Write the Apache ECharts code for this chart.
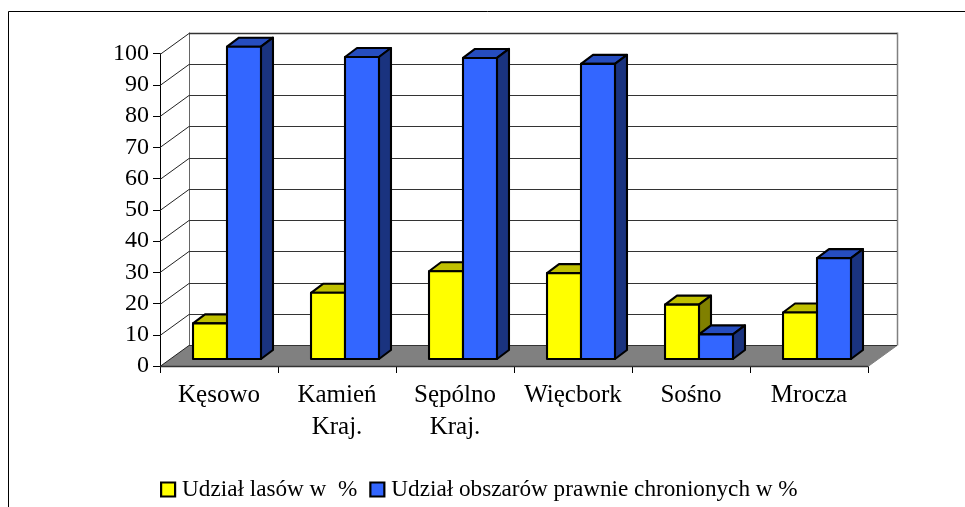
<!DOCTYPE html>
<html><head><meta charset="utf-8">
<style>html,body{margin:0;padding:0;background:#fff}#c{width:965px;height:507px}</style>
<script src="https://cdn.jsdelivr.net/npm/echarts@6/dist/echarts.min.js"></script>
</head><body><div id="c"></div>
<script>
const categories = ['Kęsowo', 'Kamień\nKraj.', 'Sępólno\nKraj.', 'Więcbork', 'Sośno', 'Mrocza'];
const forests = [11.4, 21.2, 28.1, 27.5, 17.4, 14.9];
const protectedAreas = [100, 96.7, 96.4, 94.5, 7.9, 32.3];
const yTicks = [0, 10, 20, 30, 40, 50, 60, 70, 80, 90, 100];
const seriesNames = ['Udział lasów w  %', 'Udział obszarów prawnie chronionych w %'];

const FONT = '"Liberation Serif","Times New Roman",serif';
const DX = 29, DY = 22;
const crisp = v => Math.round(v) + 0.5;

function wallItem(params, api) {
  const cs = params.coordSys;
  const tick = api.value(1);
  const y = crisp(api.coord([0, tick])[1]);
  const x0 = cs.x, x1 = cs.x + DX, x2 = cs.x + cs.width + DX;
  const by = crisp(y - DY);
  const children = [];
  if (tick === 0) {
    const fy = y;
    children.push({ type: 'polygon', shape: { points: [[x0, fy], [x1, by], [x2, by], [cs.x + cs.width, fy]] },
      style: { fill: '#808080', stroke: null } });
    children.push({ type: 'line', shape: { x1: x0, y1: fy, x2: cs.x + cs.width, y2: fy }, style: { stroke: '#333', lineWidth: 1.6 } });
    children.push({ type: 'line', shape: { x1: x2, y1: by, x2: cs.x + cs.width, y2: fy }, style: { stroke: '#808080', lineWidth: 1 } });
    const topY = crisp(api.coord([0, 100])[1] - DY);
    children.push({ type: 'line', shape: { x1: crisp(x1), y1: topY, x2: crisp(x1), y2: by }, style: { stroke: '#666', lineWidth: 1 } });
    children.push({ type: 'line', shape: { x1: crisp(x2), y1: topY, x2: crisp(x2), y2: by }, style: { stroke: '#808080', lineWidth: 1.5 } });
  }
  children.push({ type: 'line', shape: { x1: x0, y1: y, x2: x1, y2: by }, style: { stroke: '#222', lineWidth: 1 } });
  children.push({ type: 'line', shape: { x1: x1, y1: by, x2: x2, y2: by }, style: { stroke: '#333', lineWidth: tick === 100 ? 1.3 : 1 } });
  return { type: 'group', children };
}

function barItem(colors, side) {
  return function (params, api) {
    const idx = api.value(0), val = api.value(1);
    const c = api.coord([idx, val]), b = api.coord([idx, 0]);
    const w = api.size([1, 0])[0] * 0.288;
    const sx = 8, sy = 7, ddx = 12, ddy = 9;
    const cx = c[0] + sx;
    const l = side === 0 ? cx - w : cx;
    const r = l + w;
    const bot = b[1] - sy;
    const top = bot - (b[1] - c[1]);
    const st = { stroke: '#000', lineWidth: 2.1, lineJoin: 'round' };
    return { type: 'group', children: [
      { type: 'polygon', shape: { points: [[l, top], [l + ddx, top - ddy], [r + ddx, top - ddy], [r, top]] }, style: Object.assign({ fill: colors[1] }, st) },
      { type: 'polygon', shape: { points: [[r, top], [r + ddx, top - ddy], [r + ddx, bot - ddy], [r, bot]] }, style: Object.assign({ fill: colors[2] }, st) },
      { type: 'rect', shape: { x: l, y: top, width: w, height: bot - top }, style: Object.assign({ fill: colors[0] }, st) }
    ] };
  };
}

const chart = echarts.init(document.getElementById('c'), null, { renderer: 'canvas' });
chart.setOption({
  animation: false,
  backgroundColor: '#fff',
  textStyle: { fontFamily: FONT },
  graphic: [{ type: 'polyline', silent: true, z: 0,
    shape: { points: [[8.5, 520], [8.5, 11.5], [975, 11.5]] },
    style: { stroke: '#000', lineWidth: 1, fill: null } }],
  grid: { left: 160, top: 53.7, width: 708, height: 312.3, containLabel: false },
  legend: {
    data: seriesNames, left: 155, top: 473, selectedMode: false,
    itemWidth: 14, itemHeight: 14, itemGap: 12,
    icon: 'rect',
    textStyle: { fontFamily: FONT, fontSize: 23.2, color: '#000', padding: [0, 0, 0, 2] },
    itemStyle: { borderColor: '#000', borderWidth: 2.2 }
  },
  xAxis: {
    type: 'category', data: categories,
    axisLine: { show: false },
    axisTick: { show: true, alignWithLabel: false, length: 7, lineStyle: { color: '#000', width: 1 } },
    axisLabel: { fontFamily: FONT, fontSize: 25, color: '#000', margin: 13, lineHeight: 32, interval: 0 },
    splitLine: { show: false }
  },
  yAxis: {
    type: 'value', min: 0, max: 100, interval: 10,
    axisLine: { show: true, lineStyle: { color: '#000', width: 1 } },
    axisTick: { show: true, length: 7, lineStyle: { color: '#000', width: 1 } },
    axisLabel: { fontFamily: FONT, fontSize: 24, color: '#000', margin: 11 },
    splitLine: { show: false }
  },
  series: [
    { type: 'custom', name: 'walls', silent: true, z: 1, clip: false, renderItem: wallItem,
      data: yTicks.map(t => [0, t]), encode: { x: 0, y: 1 } },
    { type: 'custom', name: seriesNames[0], silent: true, z: 2, clip: false,
      itemStyle: { color: '#FFFF00' },
      renderItem: barItem(['#FFFF00', '#C0C000', '#808000'], 0),
      data: forests.map((v, i) => [i, v]), encode: { x: 0, y: 1 } },
    { type: 'custom', name: seriesNames[1], silent: true, z: 3, clip: false,
      itemStyle: { color: '#3366FF' },
      renderItem: barItem(['#3366FF', '#264DBF', '#1A337F'], 1),
      data: protectedAreas.map((v, i) => [i, v]), encode: { x: 0, y: 1 } }
  ]
});
</script></body></html>
